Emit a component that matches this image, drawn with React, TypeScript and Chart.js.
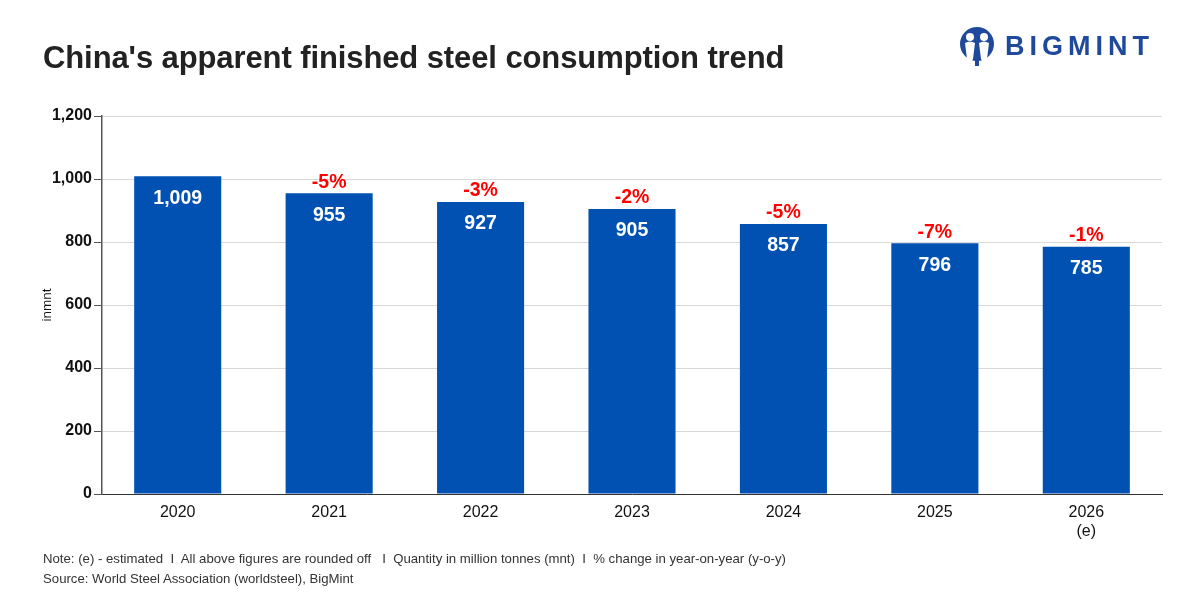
import React, { useEffect, useRef } from "react";
import { Chart, registerables } from "chart.js";

Chart.register(...registerables);

const categories: (string | string[])[] = ["2020", "2021", "2022", "2023", "2024", "2025", ["2026", "(e)"]];
const consumption = [1009, 955, 927, 905, 857, 796, 785];
const valueLabels = ["1,009", "955", "927", "905", "857", "796", "785"];
const changeLabels = ["", "-5%", "-3%", "-2%", "-5%", "-7%", "-1%"];
const yTicks = [0, 200, 400, 600, 800, 1000, 1200];

const FONT = "'Liberation Sans', Arial, sans-serif";
const BLUE = "#0151b3";

const labelPlugin = {
  id: "barLabels",
  afterDatasetsDraw(chart: any) {
    const ctx = chart.ctx;
    const meta = chart.getDatasetMeta(0);
    ctx.save();
    ctx.textAlign = "center";
    ctx.textBaseline = "middle";
    ctx.font = `bold 19.5px ${FONT}`;
    meta.data.forEach((bar: any, i: number) => {
      ctx.fillStyle = "#ffffff";
      ctx.fillText(valueLabels[i], bar.x, bar.y + 22);
      if (changeLabels[i]) {
        ctx.fillStyle = "#ff0000";
        ctx.fillText(changeLabels[i], bar.x, bar.y - 11);
      }
    });
    ctx.restore();
  },
};

function ChartCanvas() {
  const ref = useRef<HTMLCanvasElement>(null);
  useEffect(() => {
    if (!ref.current) return;
    const chart = new Chart(ref.current, {
      type: "bar",
      data: {
        labels: categories,
        datasets: [
          {
            data: consumption,
            backgroundColor: BLUE,
            borderWidth: 0,
            barPercentage: 0.575,
            categoryPercentage: 1,
          },
        ],
      },
      options: {
        animation: false,
        responsive: false,
        devicePixelRatio: 1,
        layout: { padding: { left: 39, right: 38, top: 116, bottom: 56 } },
        plugins: { legend: { display: false }, tooltip: { enabled: false } },
        scales: {
          x: {
            grid: { display: false, drawTicks: false },
            border: { color: "#333333", width: 1 },
            ticks: {
              color: "#111111",
              font: { family: FONT, size: 16 },
              padding: 9,
              maxRotation: 0,
            },
            afterFit(scale: any) {
              scale.height = 50;
            },
          },
          y: {
            min: 0,
            max: 1200,
            afterBuildTicks(scale: any) {
              scale.ticks = yTicks.map((v) => ({ value: v }));
            },
            grid: { color: "#d9d9d9", tickLength: 8, tickColor: "#555555" },
            border: { color: "#555555", width: 1.5 },
            ticks: {
              color: "#111111",
              font: { family: FONT, size: 16, weight: "bold" },
              padding: 2,
              callback: (v: any) => Number(v).toLocaleString("en-US"),
            },
            title: {
              display: true,
              text: "inmnt",
              color: "#111111",
              font: { family: FONT, size: 13.5 },
              padding: { top: 0, bottom: 4 },
            },
            afterFit(scale: any) {
              scale.width = 63;
            },
          },
        },
      },
      plugins: [labelPlugin],
    } as any);
    return () => chart.destroy();
  }, []);
  return <canvas ref={ref} width={1200} height={600} style={{ position: "absolute", left: 0, top: 0 }} />;
}

function Logo() {
  return (
    <div style={{ position: "absolute", left: 958, top: 26, display: "flex", alignItems: "center" }}>
      <svg width="38" height="40" viewBox="0 0 38 40">
        <circle cx="19" cy="18" r="17" fill="#1f4a9c" />
        <circle cx="12" cy="11" r="4" fill="#fff" />
        <circle cx="26" cy="11" r="4" fill="#fff" />
        <path d="M7 17 Q12 14 17 17 L15 33 L12 38 L9 33 Z" fill="#fff" />
        <path d="M21 17 Q26 14 31 17 L29 33 L26 38 L23 33 Z" fill="#fff" />
        <rect x="17" y="20" width="4" height="20" fill="#1f4a9c" />
      </svg>
      <span
        style={{
          marginLeft: 9,
          fontFamily: FONT,
          fontWeight: 900,
          fontSize: 27,
          letterSpacing: 5,
          color: "#1f4a9c",
        }}
      >
        BIGMINT
      </span>
    </div>
  );
}

export default function App() {
  return (
    <div
      style={{
        position: "fixed",
        left: 0,
        top: 0,
        width: 1200,
        height: 600,
        background: "#ffffff",
        overflow: "hidden",
      }}
    >
      <ChartCanvas />
      <div
        style={{
          position: "absolute",
          left: 43,
          top: 40,
          fontFamily: FONT,
          fontWeight: "bold",
          fontSize: 31,
          color: "#222222",
          letterSpacing: -0.1,
          whiteSpace: "nowrap",
        }}
      >
        China's apparent finished steel consumption trend
      </div>
      <Logo />
      <div
        style={{
          position: "absolute",
          left: 43,
          top: 549,
          fontFamily: FONT,
          fontSize: 13.2,
          color: "#333333",
          lineHeight: "20px",
          whiteSpace: "nowrap",
        }}
      >
        <div>
          Note: (e) - estimated&nbsp; I&nbsp; All above figures are rounded off&nbsp;&nbsp; I&nbsp; Quantity in million tonnes (mnt)&nbsp; I&nbsp; % change in year-on-year (y-o-y)
        </div>
        <div>Source: World Steel Association (worldsteel), BigMint</div>
      </div>
    </div>
  );
}
